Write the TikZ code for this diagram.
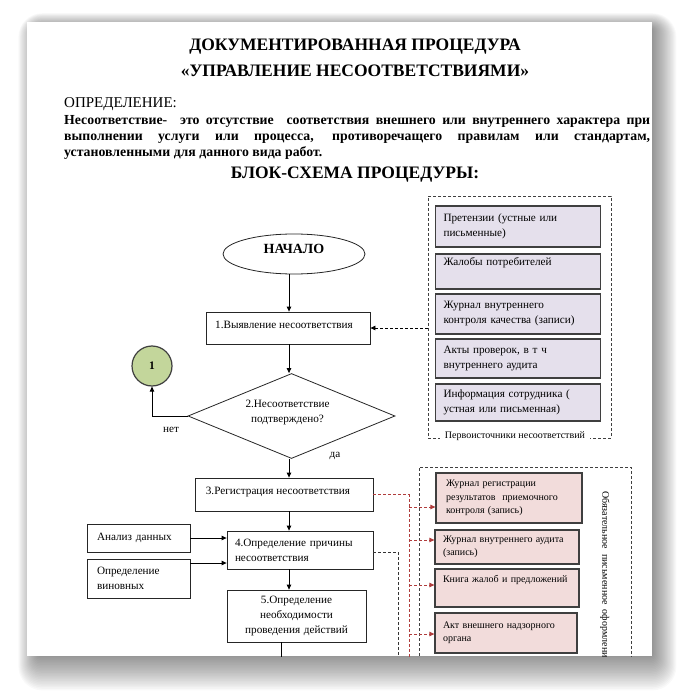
\documentclass[tikz,border=0pt]{standalone}
\usepackage{fontspec}
\setmainfont{Liberation Serif}
\usetikzlibrary{shapes.geometric,arrows.meta}
\definecolor{lav}{HTML}{E5E0EC}
\definecolor{pinkf}{HTML}{F2DCDB}
\definecolor{greenf}{HTML}{C3D69B}
\definecolor{redd}{HTML}{B03C3C}
\definecolor{bord}{HTML}{3F3F3F}
\newcommand\shft[3]{\raisebox{#2}[\height][\depth]{\hspace*{#1}#3\hspace*{-#1}}}
\begin{document}
\begin{tikzpicture}[x=1pt,y=-1pt,
  fc/.style={font=\fontsize{11.2}{15}\selectfont},
  fs/.style={font=\fontsize{10}{13.5}\selectfont},
  flow/.style={fc,draw=black!85,line width=0.8pt,fill=white,inner ysep=0pt},
  src/.style={fc,draw=bord,line width=1.3pt,fill=lav,inner ysep=0pt,inner xsep=8pt,align=left,text width=149pt,minimum width=165pt},
  rec/.style={fs,draw=bord,line width=1.3pt,fill=pinkf,inner ysep=0pt,align=left},
  grp/.style={draw=black!75,line width=0.9pt,dash pattern=on 3pt off 2pt,inner sep=0pt},
  arr/.style={line width=0.8pt,-{Triangle[length=5pt,width=4.5pt]}},
  darr/.style={arr,dash pattern=on 3pt off 2pt},
  rarr/.style={draw=redd,line width=0.8pt,dash pattern=on 3pt off 2pt,-{Triangle[length=5pt,width=4.5pt]}},
  rline/.style={draw=redd,line width=0.8pt,dash pattern=on 3pt off 2pt},
  bline/.style={draw=black!80,line width=0.8pt,dash pattern=on 3pt off 2pt},
  ttl/.style={anchor=base,inner sep=0pt,font=\fontsize{17.5}{20}\bfseries},
]
\useasboundingbox (0,0) rectangle (699,700);
% page shadow
\foreach \i in {1,...,24}{
  \fill[black,opacity=0.025,rounded corners=\i pt] (40-0.9*\i,30-0.7*\i) rectangle (650+1.1*\i,652+1.6*\i);
}
\node[fill=white,minimum width=625pt,minimum height=634pt,inner sep=0pt] (page) at (339.5,339) {};

% header texts
\node[ttl] (t1) at (355,51) {ДОКУМЕНТИРОВАННАЯ ПРОЦЕДУРА};
\node[ttl] (t2) at (355,76.5) {«УПРАВЛЕНИЕ НЕСООТВЕТСТВИЯМИ»};
\node[anchor=base west,inner sep=0pt,font=\fontsize{15}{17}\selectfont] (def) at (64,108) {ОПРЕДЕЛЕНИЕ:};
\node[anchor=base west,inner sep=0pt,font=\fontsize{13.8}{15.6}\bfseries] (par) at (64,125) {\parbox[t]{586pt}{%
\makebox[586pt][s]{Несоответствие-\ \ это отсутствие\ \ соответствия внешнего или внутреннего характера при}\\
\makebox[586pt][s]{выполнении услуги или процесса, противоречащего правилам или стандартам,}\\
установленными для данного вида работ.}};
\node[ttl] (t3) at (355,179) {БЛОК-СХЕМА ПРОЦЕДУРЫ:};

\begin{scope}
\clip (27,22) rectangle (652,656);
% groups
\node[grp,minimum width=183pt,minimum height=242pt] (sg) at (519.5,317) {};
\node[grp,minimum width=212pt,minimum height=240pt] (pg) at (525,587) {};

% sources
\node[src,minimum height=41pt] (s1) at (518,226.5) {Претензии (устные или\\письменные)};
\node[src,minimum height=35pt] (s2) at (518,271.5) {Жалобы потребителей\\\strut};
\node[src,minimum height=40pt] (s3) at (518,314) {Журнал внутреннего\\контроля качества (записи)};
\node[src,minimum height=39pt] (s4) at (518,358.5) {Акты проверок, в т ч\\внутреннего аудита};
\node[src,minimum height=37pt] (s5) at (518,402.5) {Информация сотрудника (\\устная или письменная)};
\node[fs,fill=white,inner xsep=5pt,inner ysep=1pt] (sgl) at (515,436.5) {Первоисточники несоответствий};

% records
\node[rec,minimum width=146pt,minimum height=50pt,text width=126pt,inner xsep=10pt] (p1) at (509,498) {Журнал регистрации\\результатов\ \ приемочного\\контроля (запись)};
\node[rec,minimum width=144pt,minimum height=34pt,text width=128pt,inner xsep=8pt] (p2) at (507,547) {Журнал внутреннего аудита\\(запись)};
\node[rec,minimum width=144pt,minimum height=38pt,text width=128pt,inner xsep=8pt] (p3) at (507,588) {Книга жалоб и предложений\\\strut};
\node[rec,minimum width=142pt,minimum height=40pt,text width=126pt,inner xsep=8pt] (p4) at (506,633) {Акт внешнего надзорного\\органа};
\node[fs,rotate=-90,anchor=west,inner sep=0pt] (vt) at (605,491) {Обязательное\ \ письменное\ \ оформление};

% flow
\node[flow,ellipse,minimum width=142pt,minimum height=40pt,inner sep=0pt,font=\fontsize{14}{16}\bfseries] (start) at (294,254) {\shft{0pt}{5pt}{НАЧАЛО}};
\node[flow,minimum width=164pt,minimum height=32pt] (b1) at (288,328) {\shft{-4pt}{3pt}{1.Выявление несоответствия}};
\node[flow,diamond,aspect=2.4,minimum width=207pt,minimum height=85pt,inner sep=0pt] (dec) at (291.5,416) {\shft{-4pt}{4pt}{\begin{tabular}{@{}c@{}}2.Несоответствие\\подтверждено?\end{tabular}}};
\node[circle,draw=bord,line width=1.2pt,fill=greenf,minimum size=40pt,inner sep=0pt,font=\fontsize{11.5}{13}\bfseries] (c1) at (152,366) {1};
\node[flow,minimum width=178pt,minimum height=33pt] (b3) at (284,494.5) {\shft{-6pt}{3pt}{3.Регистрация несоответствия}};
\node[flow,minimum width=146pt,minimum height=38pt,text width=130pt,inner xsep=8pt,align=left] (b4) at (300,550) {4.Определение причины\\несоответствия};
\node[flow,minimum width=103pt,minimum height=28pt,text width=83pt,inner xsep=10pt,align=left] (an) at (138.5,538) {Анализ данных};
\node[flow,minimum width=103pt,minimum height=39pt,text width=83pt,inner xsep=10pt,align=left] (vn) at (138.5,578.5) {Определение\\виновных};
\node[flow,minimum width=139pt,minimum height=52pt,text width=129pt,inner xsep=5pt,align=center] (b5) at (296.5,616) {5.Определение\\необходимости\\проведения действий};
\node[fc,inner sep=0pt] (no) at (171,430) {нет};
\node[fc,inner sep=0pt] (yes) at (335,456) {да};

\coordinate (ax) at (289,0);
\coordinate (x5) at (281,0);
\coordinate (bot) at (0,700);
\draw[arr] (start.south -| ax) -- (b1.north -| ax);
\draw[arr] (b1.south -| ax) -- (dec.north -| ax);
\draw[arr] (dec.south -| ax) -- (b3.north -| ax);
\draw[arr] (b3.south -| ax) -- (b4.north -| ax);
\draw[arr] (b4.south -| ax) -- (b5.north -| ax);
\draw[line width=0.8pt] (b5.south -| x5) -- (x5 |- bot);
\draw[arr] (dec.west) -- (dec.west -| c1) -- (c1.south);
\draw[arr] (an.east) -- (an.east -| b4.west);
\coordinate (v2) at ([yshift=15.5pt]vn.east);
\draw[arr] (v2) -- (v2 -| b4.west);
\draw[darr] (sg.west |- b1.east) -- (b1.east);

% record connectors
\coordinate (rx) at (409,0);
\coordinate (bx) at (398,0);
\draw[rline] (b3.east) -- (b3.east -| rx) -- (rx |- bot);
\coordinate (r1) at ([yshift=-9pt]p1.west);
\coordinate (r2) at ([yshift=7pt]p2.west);
\coordinate (r3) at ([yshift=3pt]p3.west);
\coordinate (r4) at ([yshift=-1pt]p4.west);
\foreach \r in {r1,r2,r3,r4} \draw[rarr] (\r -| rx) -- (\r);
\coordinate (b4e) at ([yshift=-2pt]b4.east);
\draw[bline] (b4e) -- (b4e -| bx) -- (bx |- bot);
\end{scope}
\end{tikzpicture}
\end{document}
